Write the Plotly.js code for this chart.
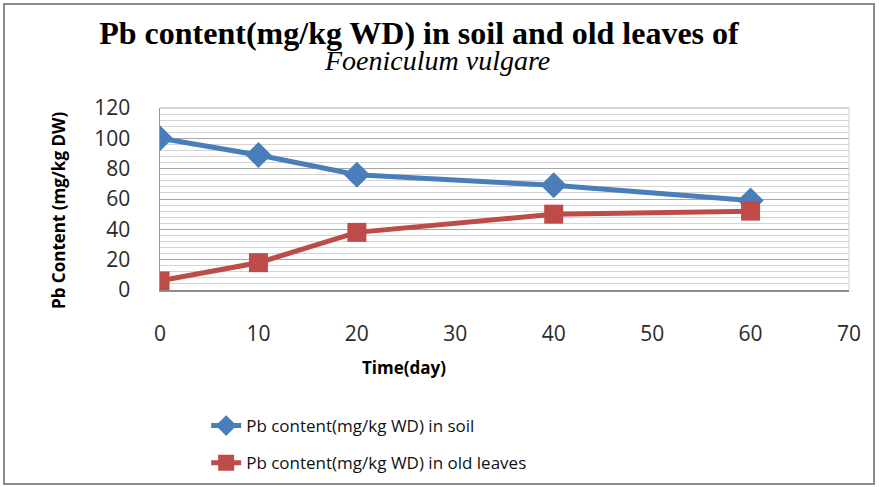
<!DOCTYPE html>
<html>
<head>
<meta charset="utf-8">
<script src="https://cdn.plot.ly/plotly-3.0.1.min.js"></script>
<style>
html,body{margin:0;padding:0;background:#fff;}
#wrap{position:absolute;left:3px;top:3px;width:872px;height:482px;border:2px solid #8a8a8a;box-sizing:border-box;pointer-events:none;}
#chart{position:absolute;left:0;top:0;width:879px;height:487px;}
</style>
</head>
<body>
<div id="chart"></div>
<div id="wrap"></div>
<script>
var days = [0, 10, 20, 40, 60];
var soilPb = [100, 89, 76, 69, 59];
var leavesPb = [6, 18, 38, 50, 52];
var xTicks = [0, 10, 20, 30, 40, 50, 60, 70];
var yTicks = [0, 20, 40, 60, 80, 100, 120];
var seriesNames = ['Pb content(mg/kg WD) in soil', 'Pb content(mg/kg WD) in old leaves'];
var titleLine1 = 'Pb content(mg/kg WD) in soil and old leaves of';
var titleLine2 = 'Foeniculum vulgare';
var xTitle = 'Time(day)';
var yTitle = 'Pb Content (mg/kg DW)';

var font = '"Open Sans", Lato, sans-serif';
var serif = '"Liberation Serif", "Times New Roman", serif';

var traces = [
  {x: days, y: soilPb, name: seriesNames[0], type: 'scatter', mode: 'lines+markers',
   legendgroup: 'a',
   line: {color: '#4A7EBB', width: 5}, marker: {symbol: 'diamond', size: 20, color: '#4A7EBB'}},
  {x: days, y: leavesPb, name: seriesNames[1], type: 'scatter', mode: 'lines+markers',
   legendgroup: 'b',
   line: {color: '#BE4B48', width: 5}, marker: {symbol: 'square', size: 19, color: '#BE4B48'}}
];

var layout = {
  width: 879, height: 487,
  margin: {l: 160, r: 30, t: 108, b: 197},
  paper_bgcolor: 'rgba(0,0,0,0)', plot_bgcolor: '#fff',
  font: {family: font, color: '#000', size: 17},
  title: {text: '<b>' + titleLine1 + '</b>',
          font: {family: serif, size: 32, color: '#000'},
          x: 419 / 879, xanchor: 'center', xref: 'container', y: 1 - 44 / 487, yanchor: 'bottom', yref: 'container'},
  xaxis: {range: [0, 70], tickvals: xTicks, ticks: 'outside', ticklen: 24, tickcolor: 'rgba(0,0,0,0)',
          showgrid: false, zeroline: false, showline: true, linecolor: '#8c8c8c', linewidth: 1.5,
          tickfont: {size: 21, color: '#2a2a2a'}},
  yaxis: {range: [0, 120], tickvals: yTicks, ticks: 'outside', ticklen: 24, tickcolor: 'rgba(0,0,0,0)',
          showgrid: true, gridcolor: '#a6a6a6', gridwidth: 1,
          minor: {dtick: 4, showgrid: true, gridcolor: '#d4d4d4', gridwidth: 1},
          zeroline: false, showline: true, linecolor: '#9a9a9a', linewidth: 1.5,
          tickfont: {size: 21, color: '#2a2a2a'}},
  annotations: [
    {text: '<i>' + titleLine2 + '</i>', xref: 'paper', yref: 'paper', showarrow: false,
     x: (437 - 160) / 689, y: (290 - 60) / 182, xanchor: 'center', yanchor: 'middle',
     font: {family: serif, size: 28, color: '#000'}},
    {text: '<b>' + xTitle + '</b>', xref: 'paper', yref: 'paper', showarrow: false,
     x: (404 - 160) / 689, y: (290 - 367) / 182, xanchor: 'center', yanchor: 'middle',
     font: {family: font, size: 17, color: '#000'}},
    {text: '<b>' + yTitle + '</b>', xref: 'paper', yref: 'paper', showarrow: false, textangle: -90,
     x: (58 - 160) / 689, y: (290 - 211) / 182, xanchor: 'center', yanchor: 'middle',
     font: {family: font, size: 17, color: '#000'}}
  ],
  showlegend: true,
  legend: {x: 0.067, xanchor: 'left', xref: 'paper', y: 1 - 408 / 487, yanchor: 'top', yref: 'container',
           orientation: 'v', tracegroupgap: 12, font: {size: 17, color: '#111'}, bgcolor: 'rgba(0,0,0,0)'},
  shapes: [
    {type: 'line', xref: 'paper', yref: 'paper', x0: 0, x1: 1, y0: 1, y1: 1, line: {color: '#a6a6a6', width: 1}},
    {type: 'line', xref: 'paper', yref: 'paper', x0: 1, x1: 1, y0: 0, y1: 1, line: {color: '#cfcfcf', width: 1}}
  ]
};

Plotly.newPlot('chart', traces, layout, {displayModeBar: false, staticPlot: true});
</script>
</body>
</html>
